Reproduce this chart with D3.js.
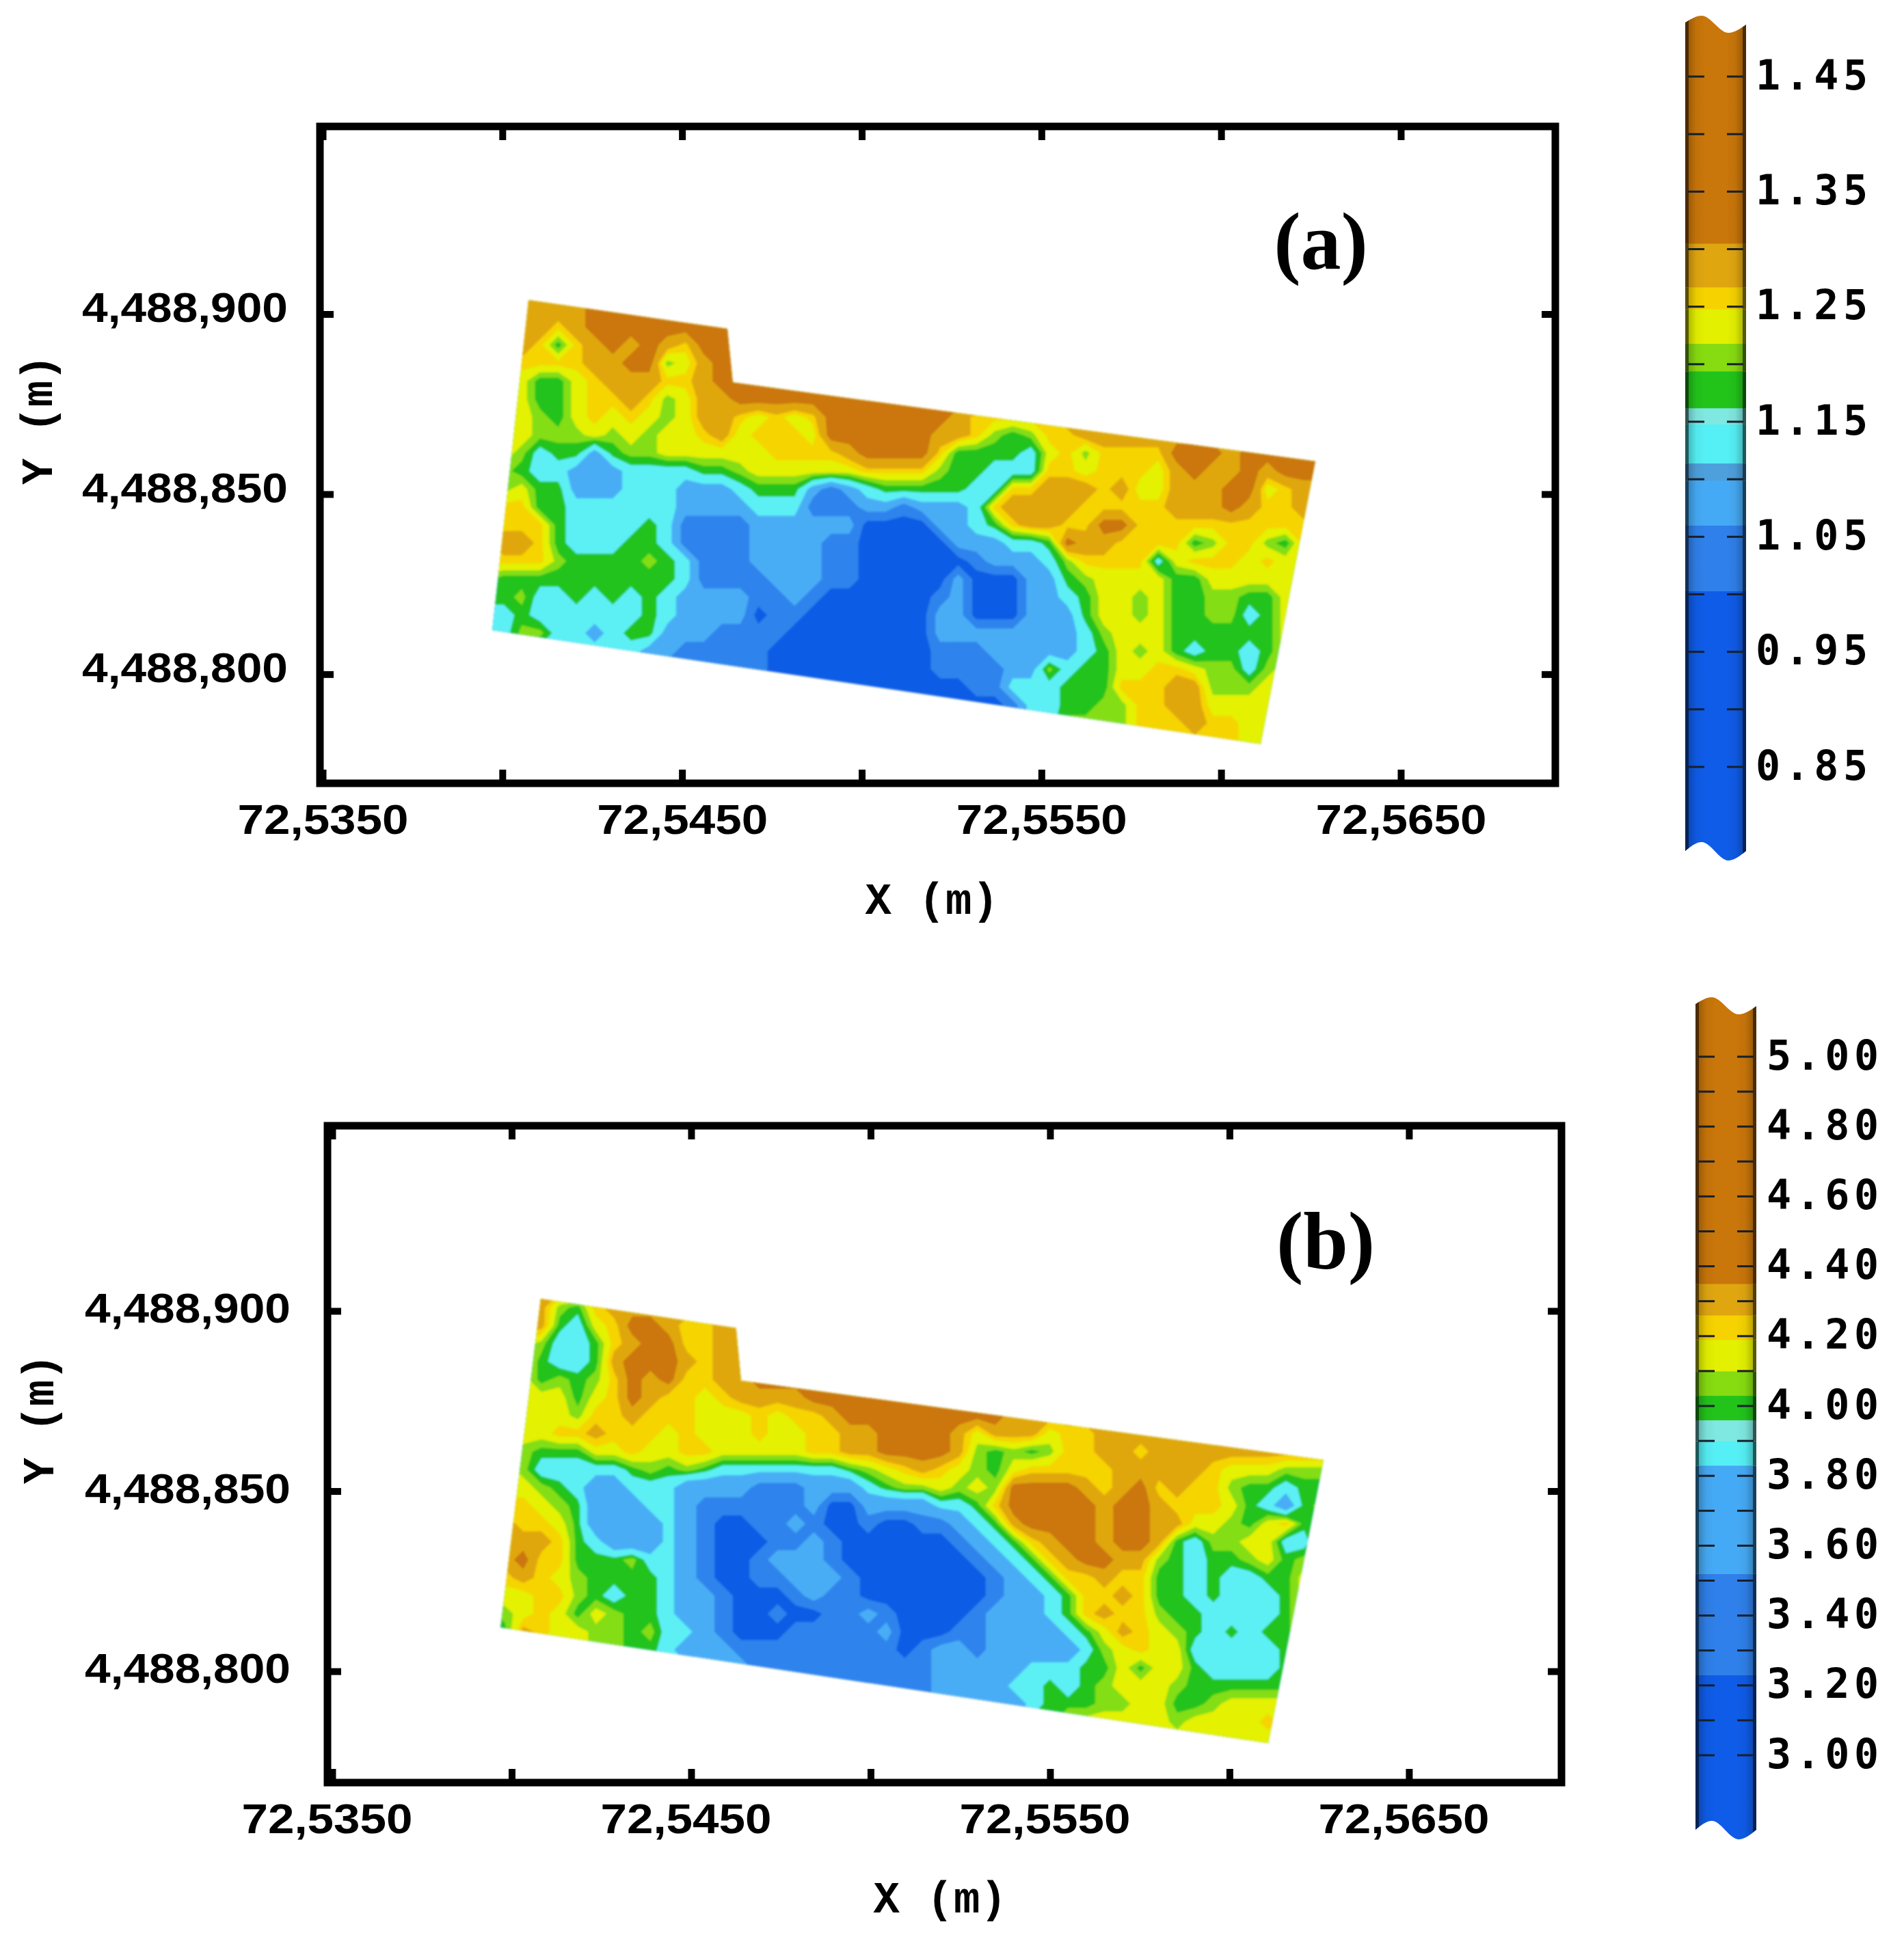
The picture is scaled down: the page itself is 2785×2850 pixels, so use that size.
<!DOCTYPE html>
<html><head><meta charset="utf-8">
<script src="https://cdn.jsdelivr.net/npm/d3@7"></script>
<style>html,body{margin:0;padding:0;background:#fff}svg{display:block}</style></head>
<body><svg id="c" width="2785" height="2850"></svg>
<script>
// ---- data: classed surface values on a 5 m survey grid
const xTicks=[725350,725400,725450,725500,725550,725600,725650];
const xLabelled=[725350,725450,725550,725650];
const yTicks=[4488800,4488850,4488900];
const classColorsMap=['#0e5ce6','#2d84ec','#48adf6','#5cf0f5','#24c31c','#84de12','#e4f100','#f6d400','#e0a70f','#cb7708'];

const classValuesA=[0.976,1.03,1.087,1.138,1.178,1.206,1.233,1.2575,1.286,1.324];
const mapBreaksA=[1.003,1.06,1.114,1.162,1.194,1.218,1.248,1.267,1.305];
const classValuesB=[3.1,3.375,3.675,3.895,3.995,4.065,4.145,4.225,4.305,4.395];
const mapBreaksB=[3.23,3.52,3.83,3.96,4.03,4.10,4.19,4.26,4.35];

const outlineA=[[725407.3,4488903.9],[725462.6,4488895.9],[725464.1,4488881.0],[725626.2,4488859.1],[725611.0,4488780.6],[725397.2,4488812.2]];
const outlineB=[[725408.1,4488903.35],[725462.5,4488895.25],[725463.9,4488880.65],[725626.2,4488858.65],[725610.8,4488780.05],[725396.9,4488812.15]];

const gridA=[
"8888899999 9999999999 9999999999 9999999999 9999999",
"8888889999 9999999999 9999999999 9999999999 9999999",
"8888789999 9999999999 9999999999 9999999999 9999999",
"8887478989 8799999999 9999999999 9999999999 9999999",
"7777778899 5689999999 9999999999 9999999999 9999999",
"6664467888 7789999999 9999999999 9999999999 9999999",
"6664467787 5688999999 9999999999 9888888888 8888888",
"6665467676 5688767679 9999998777 7788888888 8888888",
"6665556565 6678677769 9999988754 5778888888 8888888",
"6653442455 6666667777 8999974444 3675777799 9899999",
"6543322233 3344566666 6777754433 3776777689 8898999",
"6564422233 3222344421 2344444337 7888786688 8996788",
"7774433333 3222233311 1221222378 8887777788 8987788",
"7777433334 3111122222 2000022347 8877997777 7777777",
"7887433344 3111122221 1000002223 3498877774 5775477",
"7777544445 4311122221 1000000122 2357777367 7767677",
"5444444444 4311112221 1000002000 2245666644 6666666",
"4453343434 3222211210 0000012000 2234665644 5544666",
"3343333334 3222201100 0000022000 2224665644 5534666",
"3355332344 2221111000 0000022222 2223566644 4444666",
"3333333332 2111110000 0000011122 2223465643 4434666",
"3333322211 1111110000 0000011112 2534466776 5535666",
"2222221111 1100000000 0000000113 3344477788 5556666",
"1111111111 0000000000 0000000001 3344557788 6666666",
"1111111111 0000000000 0000000011 3355557778 7766666",
"1111111111 0000000000 0000000011 3355557777 7766666"];

const gridB=[
"8888888888 8888888888 8888888888 8888888888 8888888",
"8888547888 8888888888 8888888888 8888888888 8888888",
"8888436799 8778888888 8888888888 8888888888 8888888",
"6665334789 9778888888 8888888888 8888888888 8888888",
"6664334899 9878888888 8888888888 8888888888 8888888",
"6664545798 9778899999 9999999999 9888888888 8888888",
"6666646798 7767888899 9999999999 9888888888 8888888",
"6666657787 7766676778 9999999998 8888888888 8888888",
"6666778777 6766676677 8899998688 8677888888 8888888",
"6654446676 6776666677 8899998545 4577887888 8888888",
"6653333345 4543333333 4567876546 7777788888 7666555",
"6665432233 3222211122 2345565659 9998789787 7544344",
"7776542223 3211111120 0222233479 9999899877 7643245",
"8877642222 3210011210 0100112348 9999899886 6546744",
"8888743222 3210001121 0000001234 7899899843 5566336",
"8897744453 3210012221 0000000123 4789988543 4456456",
"7787654444 3210011222 1000000012 3477877443 4334466",
"6667754344 3221000121 1000000012 2347787443 4333466",
"4567646544 3221001001 1210000122 2347877544 3333466",
"4487665545 3321000111 1120001122 2234687654 3434466",
"6666665544 3222111111 1110122122 2223567663 3333466",
"6666655443 3332211111 1111122222 3334464664 3333466",
"6666655443 3332111111 1111122223 3434566654 4444466",
"6666655443 3332111111 1111122222 3444556644 5666666",
"6666655443 3332111111 1111122222 4466666656 6667666",
"6666655443 3332111111 1111122222 4466666666 6666666"];

// colour-bar classes (ascending) and labels
const barColorsA=['#0f5ce8','#2f80ea','#45aaf5','#4da0dc','#55f0f5','#7fe8e0','#22c41a','#86dc10','#e3f000','#f5d200','#e0a610','#c9760a'];
const barBreaksA=[1.003,1.06,1.099,1.114,1.148,1.162,1.194,1.218,1.248,1.267,1.305];
const barLabelsA=[1.45,1.35,1.25,1.15,1.05,0.95,0.85];
const barTicksA=[1.45,1.40,1.35,1.30,1.25,1.20,1.15,1.10,1.05,1.00,0.95,0.90,0.85];
const barColorsB=['#0f5ce8','#2f80ea','#45aaf5','#55f0f5','#7fe8e0','#22c41a','#86dc10','#e3f000','#f5d200','#e0a610','#c9760a'];
const barBreaksB=[3.23,3.52,3.83,3.90,3.96,4.03,4.10,4.19,4.26,4.35];
const barLabelsB=[5.0,4.8,4.6,4.4,4.2,4.0,3.8,3.6,3.4,3.2,3.0];
const barTicksB=[5.0,4.9,4.8,4.7,4.6,4.5,4.4,4.3,4.2,4.1,4.0,3.9,3.8,3.7,3.6,3.5,3.4,3.3,3.2,3.1,3.0];

const NX=47,NY=26,CELL_X=5.06,CELL_Y=5.0;
const svg=d3.select('#c');
const defs=svg.append('defs');
const soft=defs.append('filter').attr('id','soft').attr('x','-5%').attr('y','-5%').attr('width','110%').attr('height','110%');
soft.append('feGaussianBlur').attr('stdDeviation',1.6);
const shade=defs.append('linearGradient').attr('id','shade');
[[0,.22],[.14,.04],[.3,0],[.7,0],[.86,.04],[1,.22]].forEach(s=>shade.append('stop').attr('offset',s[0]).attr('stop-color','#000').attr('stop-opacity',s[1]));

function panel(o){
  const x=d3.scaleLinear().domain([o.xMin,o.xMax]).range([o.left,o.right]);
  const y=d3.scaleLinear().domain([o.yMin,o.yMax]).range([o.bottom,o.top]);
  const vals=[];
  o.grid.forEach(r=>{
    const s=r.replace(/ /g,'').padEnd(NX,r.trim().slice(-1));
    for(let i=0;i<NX;i++) vals.push(o.classValues[+s[i]]);
  });
  const contours=d3.contours().size([NX,NY]).thresholds(o.breaks)(vals);
  const project=d3.geoTransform({point(px,py){
    this.stream.point(x(o.gridX+(px-.5)*CELL_X),y(o.gridY-(py-.5)*CELL_Y));
  }});
  const path=d3.geoPath(project);
  const clipPts=o.outline.map(p=>[x(p[0]),y(p[1])]);
  defs.append('clipPath').attr('id','clip'+o.id).append('path').attr('d',d3.line()(clipPts)+'Z');
  const outer=svg.append('g').attr('filter','url(#soft)');
  const g=outer.append('g').attr('clip-path','url(#clip'+o.id+')');
  g.append('rect').attr('x',o.left).attr('y',o.top).attr('width',o.right-o.left).attr('height',o.bottom-o.top).attr('fill',classColorsMap[0]);
  g.selectAll('path').data(contours).join('path').attr('d',path)
    .attr('fill',(d,i)=>classColorsMap[i+1]).attr('stroke',(d,i)=>classColorsMap[i+1]).attr('stroke-width',.6);

  // axes
  const axes=svg.append('g');
  const style=s=>{s.select('.domain').remove();s.selectAll('.tick line').attr('stroke','#000').attr('stroke-width',10);};
  const xb=axes.append('g').attr('transform',`translate(0,${o.bottom})`)
    .call(d3.axisBottom(x).tickValues(xTicks).tickSize(-20).tickPadding(30)
      .tickFormat(d=>xLabelled.includes(d)?String(d).slice(0,2)+','+String(d).slice(2):''));
  style(xb);
  xb.selectAll('text').attr('font-family','Liberation Sans').attr('font-weight',700).attr('font-size',62).attr('fill','#000')
    .attr('dx',o.xLabelDx).attr('textLength',d=>xLabelled.includes(d)?250:null).attr('lengthAdjust','spacingAndGlyphs');
  style(axes.append('g').attr('transform',`translate(0,${o.top})`).call(d3.axisTop(x).tickValues(xTicks).tickSize(-20).tickFormat('')));
  const yl=axes.append('g').attr('transform',`translate(${o.left},0)`)
    .call(d3.axisLeft(y).tickValues(yTicks).tickSize(-20).tickPadding(o.yPad).tickFormat(d3.format(',')));
  style(yl);
  yl.selectAll('text').attr('font-family','Liberation Sans').attr('font-weight',700).attr('font-size',62).attr('fill','#000')
    .attr('dy',o.yLabelDy).attr('textLength',301).attr('lengthAdjust','spacingAndGlyphs');
  style(axes.append('g').attr('transform',`translate(${o.right},0)`).call(d3.axisRight(y).tickValues(yTicks).tickSize(-20).tickFormat('')));
  axes.append('rect').attr('x',o.left).attr('y',o.top).attr('width',o.right-o.left).attr('height',o.bottom-o.top)
    .attr('fill','none').attr('stroke','#000').attr('stroke-width',11);

  const mono=s=>s.attr('font-family','Liberation Mono').attr('font-weight',700).attr('font-size',64).attr('fill','#000').attr('text-anchor','middle');
  axes.append('text').text('X (m)').attr('x',o.xLabel[0]).attr('y',o.xLabel[1]).call(mono).attr('textLength',195);
  axes.append('text').text('Y (m)').attr('transform',`translate(${o.yLabel[0]},${o.yLabel[1]}) rotate(-90)`).call(mono).attr('textLength',190);
  axes.append('text').text(o.tag).attr('x',o.tagPos[0]).attr('y',o.tagPos[1]).attr('text-anchor','middle')
    .attr('font-family','Liberation Serif').attr('font-weight',700).attr('font-size',118).attr('fill','#000');

  // colour bar
  const b=o.bar;
  const v=d3.scaleLinear().domain(b.domain).range(b.range);
  const edges=[b.lo,...b.breaks,b.hi];
  const w=b.x1-b.x0;
  const topY=b.top,botY=b.bottom;
  const wave=d3.line().curve(d3.curveMonotoneX);
  const topPts=[[b.x0,topY],[b.x0+w*.27,topY-10],[b.x0+w*.71,topY+15],[b.x1,topY+3]];
  const botPts=[[b.x1,botY],[b.x0+w*.71,botY+14],[b.x0+w*.27,botY-13],[b.x0,botY]];
  const dTop=wave(topPts), dBot=wave(botPts);
  const clipD=dTop+'L'+dBot.slice(1)+'Z';
  defs.append('clipPath').attr('id','bar'+o.id).append('path').attr('d',clipD);
  const bg=svg.append('g').attr('clip-path','url(#bar'+o.id+')');
  b.colors.forEach((c,i)=>{
    const yA=v(edges[i+1]),yB=v(edges[i]);
    const dark=d3.color(c).darker(2.8).formatHex();
    bg.append('rect').attr('x',b.x0).attr('width',w).attr('y',yA).attr('height',yB-yA+.5).attr('fill',c);
    bg.append('rect').attr('x',b.x0).attr('width',5).attr('y',yA).attr('height',yB-yA+.5).attr('fill',dark);
    bg.append('rect').attr('x',b.x1-5).attr('width',5).attr('y',yA).attr('height',yB-yA+.5).attr('fill',dark);
  });
  bg.append('rect').attr('x',b.x0+5).attr('width',w-10).attr('y',topY-20).attr('height',botY-topY+40).attr('fill','url(#shade)');
  b.ticks.forEach(t=>{
    [[b.x0+4,b.x0+28],[b.x1-28,b.x1-4]].forEach(p=>
      bg.append('line').attr('x1',p[0]).attr('x2',p[1]).attr('y1',v(t)).attr('y2',v(t)).attr('stroke','#16202a').attr('stroke-width',3));
  });
  const ax=svg.append('g').attr('transform',`translate(${b.x1},0)`)
    .call(d3.axisRight(v).tickValues(b.labels).tickSize(0).tickPadding(b.pad).tickFormat(d3.format('.2f')));
  ax.select('.domain').remove();
  ax.selectAll('text').attr('font-family','DejaVu Sans Mono').attr('font-weight',700).attr('font-size',60).attr('fill','#000')
    .attr('textLength',164).attr('lengthAdjust','spacing').attr('dy','.30em');
}

panel({id:'a',tag:'(a)',grid:gridA,classValues:classValuesA,breaks:mapBreaksA,outline:outlineA,
  left:468,right:2275,top:185,bottom:1146,xMin:725349.24,xMax:725693,yMin:4488769.7,yMax:4488952.1,
  gridX:725395.3,gridY:4488906.4,xLabel:[1363,1337],yLabel:[76,614],tagPos:[1932,393],xLabelDx:0,yPad:47,yLabelDy:'.18em',
  bar:{x0:2465,x1:2554,top:33,bottom:1245,domain:[0.85,1.45],range:[1122,112],lo:0.7,hi:1.55,breaks:barBreaksA,colors:barColorsA,labels:barLabelsA,ticks:barTicksA,pad:14}
});
panel({id:'b',tag:'(b)',grid:gridB,classValues:classValuesB,breaks:mapBreaksB,outline:outlineB,
  left:479,right:2284,top:1647,bottom:2608,xMin:725348.67,xMax:725692.5,yMin:4488769.1,yMax:4488951.4,
  gridX:725393.1,gridY:4488905.95,xLabel:[1375,2798],yLabel:[78,2076],tagPos:[1939,1855],xLabelDx:-8,yPad:54,yLabelDy:'.27em',
  bar:{x0:2480,x1:2569,top:1469,bottom:2677,domain:[3.0,5.0],range:[2568,1546],lo:2.7,hi:5.25,breaks:barBreaksB,colors:barColorsB,labels:barLabelsB,ticks:barTicksB,pad:15}
});
</script></body></html>
